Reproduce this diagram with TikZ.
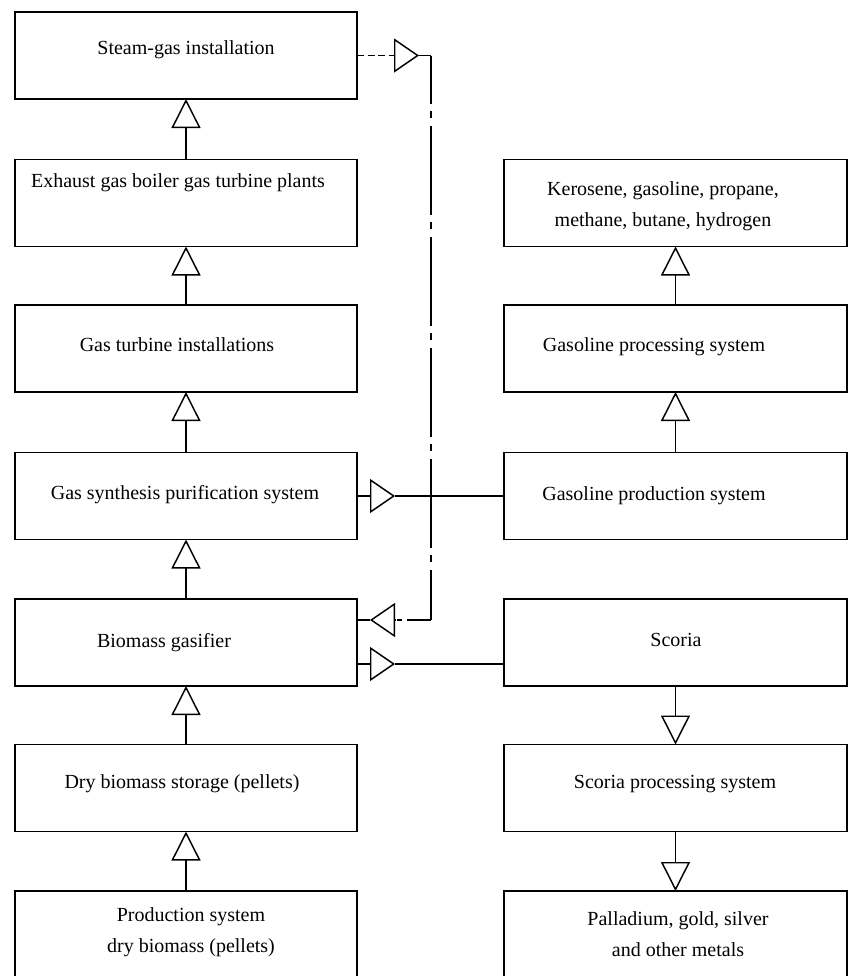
\documentclass[tikz,border=0pt]{standalone}
\usepackage{fontspec}
\setmainfont{Liberation Serif}
\usetikzlibrary{arrows.meta,calc}
\begin{document}
\begin{tikzpicture}[x=0.75pt,y=-0.75pt, line width=1.1pt,
 box/.style={draw, minimum height=65.25pt, inner sep=0pt, outer sep=0pt},
 lbox/.style={box, minimum width=256.5pt},
 rbox/.style={box, minimum width=257.25pt},
 txt/.style={font=\fontsize{15}{23.5}\selectfont, inner sep=0pt, align=center},
 vtri/.style={-{Triangle[open, length=21.75pt, width=21.75pt]}},
 htri/.style={-{Triangle[open, length=18.75pt, width=25.5pt]}},
 dashl/.style={dash pattern=on 5.25pt off 2.75pt},
 dashdotl/.style={dash pattern=on 66.75pt off 5.25pt on 5.25pt off 6pt, dash phase=30.75pt},
 dashend/.style={dash pattern=on 18pt off 3.75pt on 3.75pt off 10pt}
]
\useasboundingbox (0,0) rectangle (849,976);
\clip (0,0) rectangle (849,976);
% left column
\node[lbox] (sg) at (186,55.5) {};
\node[lbox] (eg) at (186,203) {};
\node[lbox] (gt) at (186,348.5) {};
\node[lbox] (gs) at (186,496) {};
\node[lbox] (bg) at (186,642.5) {};
\node[lbox] (db) at (186,788) {};
\node[lbox, minimum height=90pt] (ps) at (186,951) {};
% right column
\node[rbox] (ke) at (675.5,203) {};
\node[rbox] (gp) at (675.5,348.5) {};
\node[rbox] (gpr) at (675.5,496) {};
\node[rbox] (sc) at (675.5,642.5) {};
\node[rbox] (sp) at (675.5,788) {};
\node[rbox, minimum height=90pt] (pa) at (675.5,951) {};
% texts
\node[txt] (tsg) at (186,50) {Steam-gas installation};
\node[txt] (teg) at (178,183) {Exhaust gas boiler gas turbine plants};
\node[txt] (tgt) at (177,345) {Gas turbine installations};
\node[txt] (tgs) at (185,495) {Gas synthesis purification system};
\node[txt] (tbg) at (164,643) {Biomass gasifier};
\node[txt] (tdb) at (182,784) {Dry biomass storage (pellets)};
\node[txt] (tps) at (191,932) {Production system\\dry biomass (pellets)};
\node[txt] (tke) at (663,206) {Kerosene, gasoline, propane,\\methane, butane, hydrogen};
\node[txt] (tgp) at (654,347) {Gasoline processing system};
\node[txt] (tgpr) at (654,496) {Gasoline production system};
\node[txt] (tsc) at (676,640) {Scoria};
\node[txt] (tsp) at (675,784) {Scoria processing system};
\node[txt] (tpa) at (678,934) {Palladium, gold, silver\\and other metals};
% vertical connectors
\draw[vtri] (eg.north) -- (sg.south);
\draw[vtri] (gt.north) -- (eg.south);
\draw[vtri] (gs.north) -- (gt.south);
\draw[vtri] (bg.north) -- (gs.south);
\draw[vtri] (db.north) -- (bg.south);
\draw[vtri] (ps.north) -- (db.south);
\draw[vtri] (gp.north) -- (ke.south);
\draw[vtri] (gpr.north) -- (gp.south);
\draw[vtri] (sc.south) -- (sp.north);
\draw[vtri] (sp.south) -- (pa.north);
% horizontal connectors
\coordinate (h1) at ($(gs.east)+(38,0)$);
\draw[htri] (gs.east) -- (h1);
\draw (h1) -- (gpr.west);
\coordinate (g2) at ($(bg.east)+(0,21.5)$);
\coordinate (h2) at ($(g2)+(38,0)$);
\draw[htri] (g2) -- (h2);
\draw (h2) -- (sc.west |- g2);
% feedback loop
\coordinate (f1) at ($(sg.east)+(62,0)$);
\coordinate (f2) at ($(sg.east)+(74,0)$);
\draw[dashl, htri] (sg.east) -- (f1);
\draw (f1) -- (f2);
\coordinate (f3) at ($(bg.east)+(0,-22.5)$);
\coordinate (f4) at ($(f3)+(38,0)$);
\coordinate (f5) at ($(f3)+(13,0)$);
\coordinate (fc) at (f2 |- f3);
\draw[dashdotl] (f2) -- (fc);
\draw[dashend] (fc) -- (f4);
\draw[htri] (f4) -- (f5);
\draw (f5) -- (f3);
\end{tikzpicture}
\end{document}
